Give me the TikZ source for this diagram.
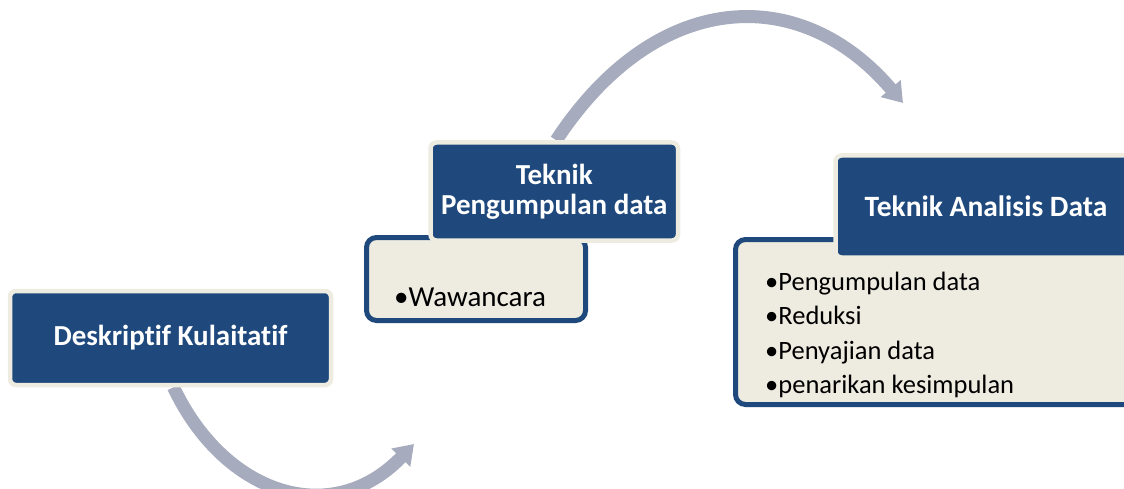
\documentclass[tikz,border=0pt]{standalone}
\usepackage{fontspec}
\setmainfont{Carlito}[Ligatures=NoCommon]
\usetikzlibrary{arrows.meta}
\definecolor{dblue}{HTML}{1F497D}
\definecolor{cream}{HTML}{EEECE1}
\definecolor{arrowgray}{RGB}{166,172,190}
\pgfdeclarelayer{background}
\pgfsetlayers{background,main}
\tikzset{
  hdrbox/.style={fill=dblue, draw=cream, line width=4.5pt, rounded corners=6pt, text=white, inner sep=0pt},
  listbox/.style={fill=cream, draw=dblue, line width=5pt, rounded corners=10pt, inner sep=0pt},
  itemtext/.style={anchor=base west, font=\fontsize{26.5}{34}\selectfont, text=black, inner sep=0pt},
  flowarrow/.style={draw=arrowgray, line width=13pt, -{Triangle[width=25pt,length=19pt]}},
}
\begin{document}
\begin{tikzpicture}[x=1pt,y=-1pt]
\useasboundingbox (0,0) rectangle (1124,489);
\clip (0,0) rectangle (1124,489);
% list boxes
\node[listbox, minimum width=219pt, minimum height=83pt] (list2) at (476,279) {};
\node[listbox, minimum width=419.5pt, minimum height=165pt] (list3) at (945.25,322) {};
% header boxes
\node[hdrbox, minimum width=321pt, minimum height=94pt, font=\bfseries\fontsize{29}{30}\selectfont] (box1) at (170.5,338) {Deskriptif Kulaitatif};
\node[hdrbox, minimum width=247.5pt, minimum height=98pt, align=center, font=\bfseries\fontsize{29}{30}\selectfont] (hdr2) at (554.25,191.5) {Teknik\\Pengumpulan data};
\node[hdrbox, minimum width=301pt, minimum height=102pt, font=\bfseries\fontsize{29.5}{30}\selectfont] (hdr3) at (986,206.5) {Teknik Analisis Data};
% list items
\node[itemtext, font=\fontsize{29}{34}\selectfont] (w1) at (394,306.5) {•Wawancara};
\node[itemtext] (t1) at (765,290) {•Pengumpulan data};
\node[itemtext] (t2) at (765,324.5) {•Reduksi};
\node[itemtext] (t3) at (765,359) {•Penyajian data};
\node[itemtext] (t4) at (765,393.5) {•penarikan kesimpulan};
% arrow end points
\coordinate (e1) at (414,444);
\coordinate (e2) at (903,103);
\begin{pgfonlayer}{background}
\clip (0,0) rectangle (1124,489);
\draw[flowarrow] ([xshift=3pt]box1.south) .. controls (224,494) and (331,530) .. (e1);
\draw[flowarrow] ([xshift=2pt]hdr2.north) .. controls (655,-10) and (799,-19) .. (e2);
\end{pgfonlayer}
\end{tikzpicture}
\end{document}
